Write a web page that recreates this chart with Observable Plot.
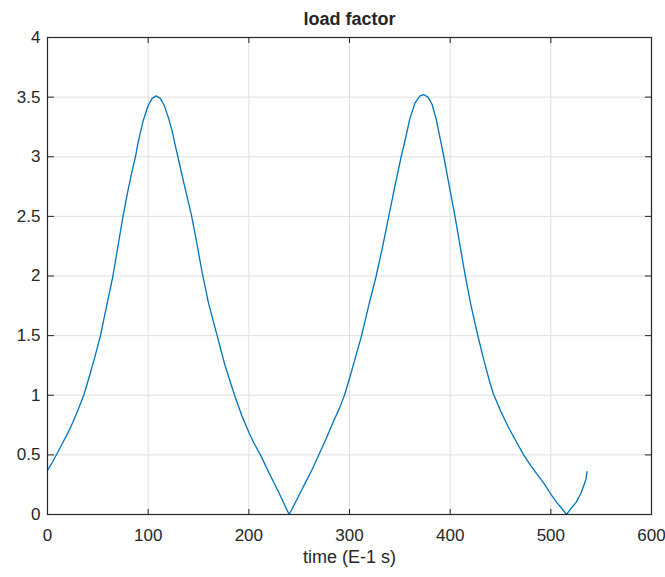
<!DOCTYPE html>
<html>
<head>
<meta charset="utf-8">
<script src="https://cdn.jsdelivr.net/npm/d3@7"></script>
<script src="https://cdn.jsdelivr.net/npm/@observablehq/plot@0.6"></script>
<style>
  html, body { margin: 0; padding: 0; background: #fff; }
  #chart svg { display: block; }
</style>
</head>
<body>
<div id="chart"></div>
<script>
const title = "load factor";
const xLabel = "time (E-1 s)";
const xTicks = [0, 100, 200, 300, 400, 500, 600];
const xTickLabels = ["0", "100", "200", "300", "400", "500", "600"];
const yTicks = [0, 0.5, 1, 1.5, 2, 2.5, 3, 3.5, 4];
const yTickLabels = ["0", "0.5", "1", "1.5", "2", "2.5", "3", "3.5", "4"];

const time = [0,5,10,15,20,25,30,36,42,47,52.6,58,65,70,75,80,84,87.4,90,95,100,104,108,112,116,120,124,126.5,129.5,136,143,148,153.6,160,168.5,176,185.8,193,200,205,211.5,220,230,240,245,251,257,263,270,277,284,290,295,300,306,312,319,326.5,333,339,345,351.3,355,360,365,370,374,378,382,386,390.4,393.7,399,404.6,409.5,414.6,420.5,426.9,433,439,443,450,458,465,473,480,487,494,500,506,511,515.5,520,525,530,533,535,536];
const loadFactor = [0.37,0.44,0.52,0.60,0.68,0.77,0.87,1.00,1.17,1.32,1.50,1.72,2.00,2.25,2.50,2.72,2.88,3.00,3.12,3.30,3.43,3.49,3.51,3.49,3.43,3.33,3.21,3.11,3.00,2.76,2.51,2.29,2.03,1.77,1.50,1.26,1.00,0.83,0.69,0.60,0.50,0.35,0.18,0.00,0.08,0.18,0.28,0.38,0.51,0.64,0.78,0.89,1.00,1.14,1.32,1.50,1.75,2.00,2.25,2.50,2.75,3.00,3.13,3.32,3.45,3.51,3.52,3.50,3.44,3.32,3.14,3.00,2.76,2.51,2.27,2.02,1.76,1.52,1.31,1.12,1.01,0.87,0.73,0.62,0.50,0.41,0.33,0.25,0.17,0.10,0.05,0.00,0.05,0.10,0.18,0.25,0.30,0.36];

const data = time.map((t, i) => ({t, v: loadFactor[i]}));

const W = 665, H = 577;
const mL = 47, mR = 14, mT = 37, mB = 63;
const innerW = W - mL - mR, innerH = H - mT - mB;
const ink = "#262626";
const font = "'Liberation Sans', Arial, Helvetica, sans-serif";

const chart = Plot.plot({
  width: W,
  height: H,
  marginLeft: mL,
  marginRight: mR,
  marginTop: mT,
  marginBottom: mB,
  style: {fontFamily: font, fontSize: "17px", color: ink, background: "#fff"},
  x: {domain: [0, 600], label: null},
  y: {domain: [0, 4], label: null},
  marks: [
    Plot.gridX(xTicks, {stroke: "#dedede", strokeOpacity: 1}),
    Plot.gridY(yTicks, {stroke: "#dedede", strokeOpacity: 1}),
    Plot.line(data, {x: "t", y: "v", stroke: "#0072BD", strokeWidth: 1.3}),
    Plot.frame({stroke: ink, strokeWidth: 1.2}),
    // inward ticks
    Plot.axisX(xTicks, {anchor: "top", tickSize: 6, text: null, dy: innerH, stroke: ink}),
    Plot.axisX(xTicks, {anchor: "bottom", tickSize: 6, text: null, dy: -innerH, stroke: ink}),
    Plot.axisY(yTicks, {anchor: "right", tickSize: 6, text: null, dx: -innerW, stroke: ink}),
    Plot.axisY(yTicks, {anchor: "left", tickSize: 6, text: null, dx: innerW, stroke: ink}),
    // tick labels
    Plot.axisX(xTicks, {anchor: "bottom", tickSize: 0, tickPadding: 14, fontSize: 17, fill: ink,
      tickFormat: d => xTickLabels[xTicks.indexOf(d)], label: null}),
    Plot.axisY(yTicks, {anchor: "left", tickSize: 0, tickPadding: 7, fontSize: 17, fill: ink,
      tickFormat: d => yTickLabels[yTicks.indexOf(d)], label: null}),
    // title and axis label
    Plot.text([title], {text: d => d, frameAnchor: "top", dy: -25, fontSize: 18, fontWeight: "bold", fill: ink}),
    Plot.text([xLabel], {text: d => d, frameAnchor: "bottom", dy: 48, fontSize: 18, fill: ink})
  ]
});
document.getElementById("chart").appendChild(chart);
</script>
</body>
</html>
